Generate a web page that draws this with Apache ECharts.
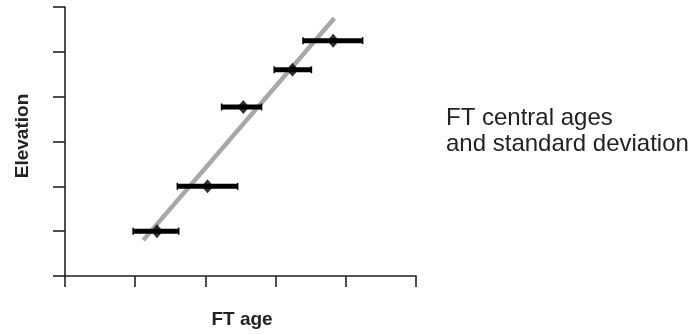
<!DOCTYPE html>
<html>
<head>
<meta charset="utf-8">
<script src="https://cdn.jsdelivr.net/npm/echarts@6/dist/echarts.min.js"></script>
<style>html,body{margin:0;padding:0;background:#fff}#c{width:700px;height:334px}</style>
</head>
<body>
<div id="c"></div>
<script>
// FT central ages (x) and elevation (y, arbitrary units)
var ftAges = [1.31, 2.03, 2.54, 3.24, 3.82];
var elevations = [1.0, 2.0, 3.77, 4.6, 5.25];
var ageLow = [0.97, 1.60, 2.23, 2.98, 3.39];
var ageHigh = [1.62, 2.46, 2.80, 3.51, 4.24];
// regression line endpoints [age, elevation]
var trendLine = [[1.115, 0.80], [3.836, 5.75]];
var xTicks = [0, 1, 2, 3, 4, 5];
var yTicks = [0, 1, 2, 3, 4, 5, 6];

var FONT = '"Liberation Sans", Arial, sans-serif';
var chart = echarts.init(document.getElementById('c'), null, {renderer: 'canvas'});

var errData = ftAges.map(function (a, i) { return [ageLow[i], ageHigh[i], elevations[i]]; });
var ptData = ftAges.map(function (a, i) { return [a, elevations[i]]; });

chart.setOption({
  animation: false,
  grid: {left: 65, right: 284, top: 7, bottom: 58},
  xAxis: {
    type: 'value', min: xTicks[0], max: xTicks[xTicks.length - 1], interval: 1,
    axisLine: {show: true, lineStyle: {color: '#222', width: 1.6}},
    axisTick: {show: true, length: 11, lineStyle: {color: '#222', width: 1.6}},
    axisLabel: {show: false}, splitLine: {show: false}
  },
  yAxis: {
    type: 'value', min: yTicks[0], max: yTicks[yTicks.length - 1], interval: 1,
    axisLine: {show: true, lineStyle: {color: '#222', width: 1.6}},
    axisTick: {show: true, length: 12, lineStyle: {color: '#222', width: 1.6}},
    axisLabel: {show: false}, splitLine: {show: false}
  },
  series: [
    {
      type: 'line', data: trendLine, symbol: 'none', z: 1,
      lineStyle: {color: '#a8a8a8', width: 4.5}
    },
    {
      type: 'custom', z: 2,
      data: errData,
      renderItem: function (params, api) {
        var p1 = api.coord([api.value(0), api.value(2)]);
        var p2 = api.coord([api.value(1), api.value(2)]);
        var st = {stroke: '#000', lineWidth: 5};
        var cs = {stroke: '#000', lineWidth: 1.5};
        return {
          type: 'group',
          children: [
            {type: 'line', shape: {x1: p1[0], y1: p1[1], x2: p2[0], y2: p2[1]}, style: st},
            {type: 'line', shape: {x1: p1[0], y1: p1[1] - 3.5, x2: p1[0], y2: p1[1] + 3.5}, style: cs},
            {type: 'line', shape: {x1: p2[0], y1: p2[1] - 3.5, x2: p2[0], y2: p2[1] + 3.5}, style: cs}
          ]
        };
      }
    },
    {
      type: 'scatter', z: 3, data: ptData, symbol: 'diamond', symbolSize: [12, 14],
      itemStyle: {color: '#000'}
    }
  ],
  graphic: [
    {type: 'text', x: 23, y: 136, rotation: Math.PI / 2,
     style: {text: 'Elevation', font: 'bold 19px ' + FONT, fill: '#222', align: 'center', verticalAlign: 'middle'}},
    {type: 'text', x: 242, y: 320,
     style: {text: 'FT age', font: 'bold 19px ' + FONT, fill: '#222', align: 'center', verticalAlign: 'middle'}},
    {type: 'text', x: 446, y: 105,
     style: {text: 'FT central ages\nand standard deviation', font: '24px ' + FONT, lineHeight: 26, fill: '#222', align: 'left', verticalAlign: 'top'}}
  ]
});
</script>
</body>
</html>
